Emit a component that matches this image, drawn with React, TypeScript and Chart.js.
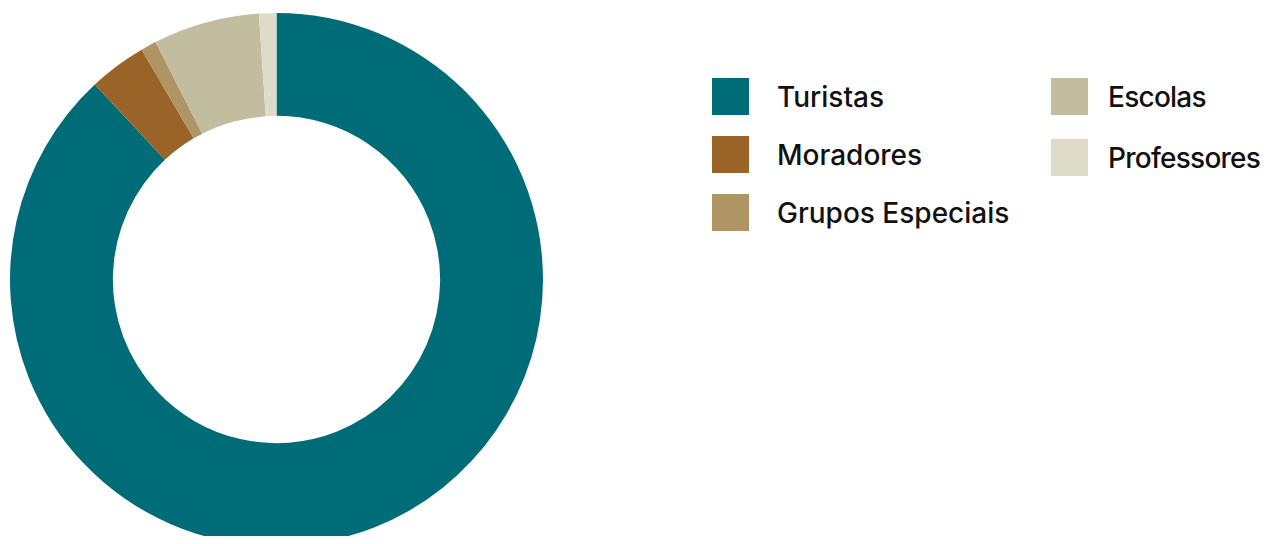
import React, { useEffect, useRef } from "react";
import { Chart, registerables } from "chart.js";

Chart.register(...registerables);

const categories = ["Turistas", "Moradores", "Grupos Especiais", "Escolas", "Professores"];
const values = [88.1, 3.5, 0.95, 6.45, 1.05];
const colors = ["#006C78", "#9A6429", "#B09564", "#C2BD9F", "#DEDCC9"];

const legendColumns = [[0, 1, 2], [3, 4]];

export default function App() {
  const ref = useRef<HTMLCanvasElement | null>(null);

  useEffect(() => {
    document.documentElement.style.overflow = "hidden";
    document.body.style.overflow = "hidden";
    if (!ref.current) return;
    const chart = new Chart(ref.current, {
      type: "doughnut",
      data: {
        labels: categories,
        datasets: [
          {
            data: values,
            backgroundColor: colors,
            borderWidth: 0,
            hoverOffset: 0,
          },
        ],
      },
      options: {
        animation: false,
        responsive: true,
        maintainAspectRatio: false,
        cutout: "61.4%",
        layout: { padding: 0 },
        plugins: {
          legend: { display: false },
          tooltip: { enabled: false },
        },
      },
    });
    return () => chart.destroy();
  }, []);

  const colLefts = [712, 1051];
  const rowPitch = [58, 61];

  return (
    <div
      style={{
        position: "relative",
        width: 1254,
        height: 528,
        fontFamily: "Inter, 'Noto Sans', sans-serif",
      }}
    >
      <div style={{ position: "absolute", left: 2, top: 0, width: 540, height: 528, overflow: "hidden" }}>
        <div style={{ position: "absolute", left: 0, top: 5, width: 533, height: 533 }}>
          <canvas ref={ref} />
        </div>
      </div>
      {legendColumns.map((col, ci) =>
        col.map((idx, ri) => (
          <div
            key={idx}
            style={{
              position: "absolute",
              left: colLefts[ci] - 8,
              top: 78 - 8 + ri * rowPitch[ci],
              height: 37,
              display: "flex",
              alignItems: "center",
              whiteSpace: "nowrap",
            }}
          >
            <div style={{ width: 37, height: 37, background: colors[idx], flex: "none" }} />
            <span
              style={{
                marginLeft: ci === 0 ? 28 : 20,
                fontSize: 28,
                fontWeight: 500,
                letterSpacing: ci === 0 ? 0 : "-0.75px",
                color: "#111",
                lineHeight: "37px",
                position: "relative",
                top: 1,
              }}
            >
              {categories[idx]}
            </span>
          </div>
        ))
      )}
    </div>
  );
}
